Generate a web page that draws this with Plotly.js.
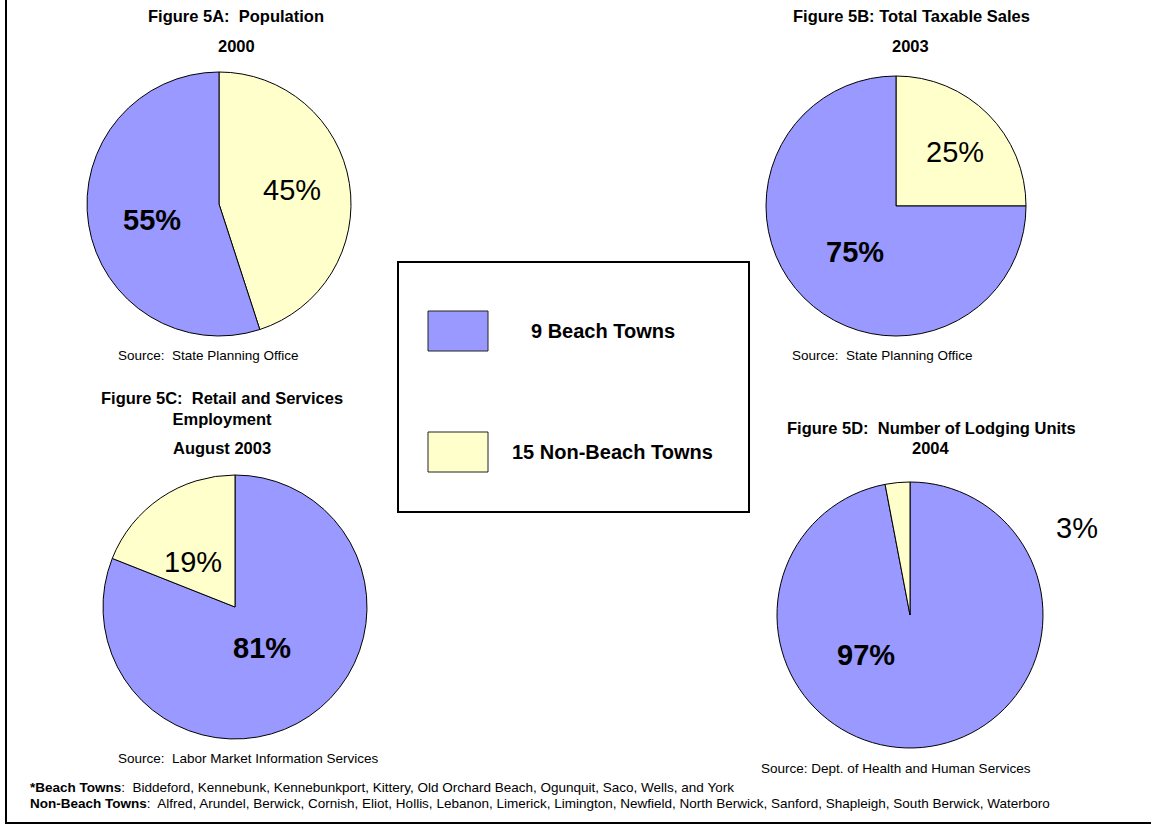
<!DOCTYPE html>
<html>
<head>
<meta charset="utf-8">
<script src="https://cdn.plot.ly/plotly-3.0.1.min.js"></script>
<style>html,body{margin:0;padding:0;background:#fff;}#chart{width:1151px;height:825px;}</style>
</head>
<body>
<div id="chart"></div>
<script>
// ---- data ----
const groups = ['9 Beach Towns', '15 Non-Beach Towns'];
const groupColors = ['#9999FF', '#FFFFCC'];
const popValues = [55, 45];          // Figure 5A Population 2000
const salesValues = [75, 25];        // Figure 5B Total Taxable Sales 2003
const employValues = [81, 19];       // Figure 5C Retail & Services Employment Aug 2003
const lodgingValues = [97, 3];       // Figure 5D Lodging Units 2004
const figTitles = ['Figure 5A:  Population', 'Figure 5B: Total Taxable Sales',
                   'Figure 5C:  Retail and Services<br>Employment', 'Figure 5D:  Number of Lodging Units'];
const figYears = ['2000', '2003', 'August 2003', '2004'];
const sources = ['Source:  State Planning Office', 'Source:  State Planning Office',
                 'Source:  Labor Market Information Services', 'Source: Dept. of Health and Human Services'];
const beachTowns = 'Biddeford, Kennebunk, Kennebunkport, Kittery, Old Orchard Beach, Ogunquit, Saco, Wells, and York';
const nonBeachTowns = 'Alfred, Arundel, Berwick, Cornish, Eliot, Hollis, Lebanon, Limerick, Limington, Newfield, North Berwick, Sanford, Shapleigh, South Berwick, Waterboro';

// ---- layout helpers ----
const W = 1151, H = 825;
const FONT = 'Liberation Sans, Arial, Helvetica, sans-serif';
const px = x => x / W;
const py = y => 1 - y / H;
function dom(cx, cy, r) {
  return {x: [px(cx - r), px(cx + r)], y: [py(cy + r), py(cy - r)]};
}
function ann(text, x, y, size, opts) {
  return Object.assign({text: text, x: px(x), y: py(y), xref: 'paper', yref: 'paper',
    showarrow: false, xanchor: 'center', yanchor: 'middle',
    font: {family: FONT, size: size, color: '#000'}}, opts || {});
}

// rev: draw the Non-Beach slice first (clockwise from 12 o'clock)
const pies = [
  {values: popValues, cx: 219, cy: 204, r: 132, rev: true,
   lab: [[152, 220], [292, 190]]},
  {values: salesValues, cx: 896, cy: 206, r: 130, rev: true,
   lab: [[855, 252], [955, 152]]},
  {values: employValues, cx: 235, cy: 607, r: 132, rev: false,
   lab: [[262, 648], [193, 562]]},
  {values: lodgingValues, cx: 910, cy: 615, r: 133, rev: false,
   lab: [[866, 655], [1077, 528]]}
];

const traces = pies.map(p => {
  const labs = p.rev ? groups.slice().reverse() : groups.slice();
  const vals = p.rev ? p.values.slice().reverse() : p.values.slice();
  const cols = p.rev ? groupColors.slice().reverse() : groupColors.slice();
  return {
    type: 'pie', labels: labs, values: vals, sort: false, direction: 'clockwise',
    rotation: 0, domain: dom(p.cx, p.cy, p.r), textinfo: 'none', hoverinfo: 'label+percent',
    marker: {colors: cols, line: {color: '#000', width: 1}}, showlegend: false
  };
});

const annotations = [];
pies.forEach(p => {
  annotations.push(ann('<b>' + p.values[0] + '%</b>', p.lab[0][0], p.lab[0][1], 29));
  annotations.push(ann(p.values[1] + '%', p.lab[1][0], p.lab[1][1], 29));
});
// titles
annotations.push(ann('<b>' + figTitles[0] + '</b>', 236, 16, 16.5));
annotations.push(ann('<b>' + figYears[0] + '</b>', 236, 46, 16.5));
annotations.push(ann('<b>' + figTitles[1] + '</b>', 911, 16, 16.5));
annotations.push(ann('<b>' + figYears[1] + '</b>', 910, 46, 16.5));
annotations.push(ann('<b>' + figTitles[2] + '</b>', 222, 408, 16.5));
annotations.push(ann('<b>' + figYears[2] + '</b>', 222, 448, 16.5));
annotations.push(ann('<b>' + figTitles[3] + '</b>', 931, 428, 16.5));
annotations.push(ann('<b>' + figYears[3] + '</b>', 931, 448, 16.5));
// sources
annotations.push(ann(sources[0], 208, 355, 13.5));
annotations.push(ann(sources[1], 882, 355, 13.5));
annotations.push(ann(sources[2], 248, 758, 13.5));
annotations.push(ann(sources[3], 896, 768, 13.5));
// legend text
annotations.push(ann('<b>' + groups[0] + '</b>', 603, 331, 20));
annotations.push(ann('<b>' + groups[1] + '</b>', 612, 452, 20));
// footnotes
annotations.push(ann('<b>*Beach Towns</b>:  ' + beachTowns, 28, 787, 13.5, {xanchor: 'left'}));
annotations.push(ann('<b>Non-Beach Towns</b>:  ' + nonBeachTowns, 28, 803, 13.5, {xanchor: 'left'}));

const shapes = [
  // outer frame (left + bottom)
  {type: 'line', xref: 'paper', yref: 'paper', x0: px(6), x1: px(6), y0: py(0), y1: py(823), line: {color: '#000', width: 2}},
  {type: 'line', xref: 'paper', yref: 'paper', x0: px(5), x1: px(1151), y0: py(823), y1: py(823), line: {color: '#000', width: 2}},
  // legend box
  {type: 'rect', xref: 'paper', yref: 'paper', x0: px(398), x1: px(749), y0: py(512), y1: py(262), line: {color: '#000', width: 2}, fillcolor: 'rgba(0,0,0,0)'},
  {type: 'rect', xref: 'paper', yref: 'paper', x0: px(428), x1: px(488), y0: py(351), y1: py(311), line: {color: '#222', width: 1}, fillcolor: groupColors[0]},
  {type: 'rect', xref: 'paper', yref: 'paper', x0: px(428), x1: px(488), y0: py(472), y1: py(432), line: {color: '#222', width: 1}, fillcolor: groupColors[1]}
];

const layout = {
  width: W, height: H, margin: {l: 0, r: 0, t: 0, b: 0},
  paper_bgcolor: '#fff', plot_bgcolor: '#fff', showlegend: false,
  font: {family: FONT, color: '#000'},
  annotations: annotations, shapes: shapes
};

Plotly.newPlot('chart', traces, layout, {displayModeBar: false, staticPlot: true});
</script>
</body>
</html>
